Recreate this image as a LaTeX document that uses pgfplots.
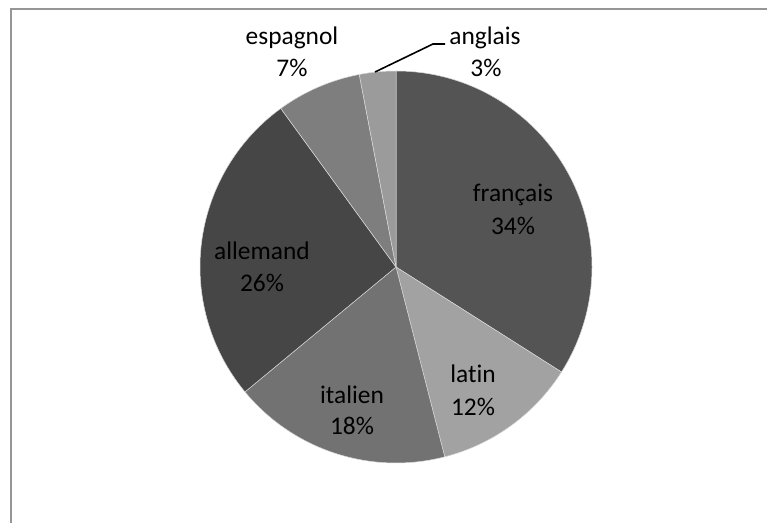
\documentclass[border=0pt]{standalone}
\usepackage{pgfplots}
\pgfplotsset{compat=1.18}
\usepackage{pgfplotstable}
\usepackage{fontspec}
\setmainfont{Carlito}[Ligatures={NoCommon}]
\definecolor{cfr}{HTML}{545454}
\definecolor{cla}{HTML}{A2A2A2}
\definecolor{cit}{HTML}{727272}
\definecolor{cal}{HTML}{464646}
\definecolor{ces}{HTML}{7E7E7E}
\definecolor{can}{HTML}{9B9B9B}
\definecolor{frame}{HTML}{969696}
\pgfplotstableread{
lang value col
francais 34 cfr
latin 12 cla
italien 18 cit
allemand 26 cal
espagnol 7 ces
anglais 3 can
}\piedata
\begin{document}
\begin{tikzpicture}
\begin{axis}[
  at={(0,0)}, anchor=south west,
  scale only axis, width=767bp, height=523bp,
  xmin=0, xmax=767, ymin=0, ymax=523,
  hide axis, clip=false,
]
\xdef\curang{90}
\pgfplotsforeachungrouped \i in {0,...,5}{%
  \pgfplotstablegetelem{\i}{value}\of\piedata \let\sliceval\pgfplotsretval
  \pgfplotstablegetelem{\i}{col}\of\piedata \let\slicecol\pgfplotsretval
  \pgfmathsetmacro\endang{\curang-3.6*\sliceval}%
  \edef\tmp{\noexpand\fill[\slicecol, draw=white!70!gray, line width=0.5bp] (axis cs:396,256) -- ++(\curang:196bp) arc[start angle=\curang, end angle=\endang, radius=196bp] -- cycle;}%
  \tmp
  \xdef\curang{\endang}%
}
% frame
\draw[frame, line width=2bp] (axis cs:10.5,0) -- (axis cs:10.5,513.5) -- (axis cs:767,513.5);
% leader line
\draw[black, line width=1.6bp] (axis cs:375,451) -- (axis cs:433,479) -- (axis cs:445,479);
% labels
\tikzset{lbl/.style={anchor=base, inner sep=0pt, font=\fontsize{25.5}{30}\selectfont, text=black}}
\node[lbl] at (axis cs:513,321.3) {français};
\node[lbl] at (axis cs:513,288.7) {34\%};
\node[lbl] at (axis cs:473,140) {latin};
\node[lbl] at (axis cs:473,107) {12\%};
\node[lbl] at (axis cs:352,119.7) {italien};
\node[lbl] at (axis cs:352,88) {18\%};
\node[lbl] at (axis cs:262,263.7) {allemand};
\node[lbl] at (axis cs:262,231.3) {26\%};
\node[lbl] at (axis cs:292,478) {espagnol};
\node[lbl] at (axis cs:292,446.3) {7\%};
\node[lbl] at (axis cs:485,478) {anglais};
\node[lbl] at (axis cs:486,446.3) {3\%};
\end{axis}
\pgfresetboundingbox
\useasboundingbox (0,0) rectangle (767bp,523bp);
\end{tikzpicture}
\end{document}
